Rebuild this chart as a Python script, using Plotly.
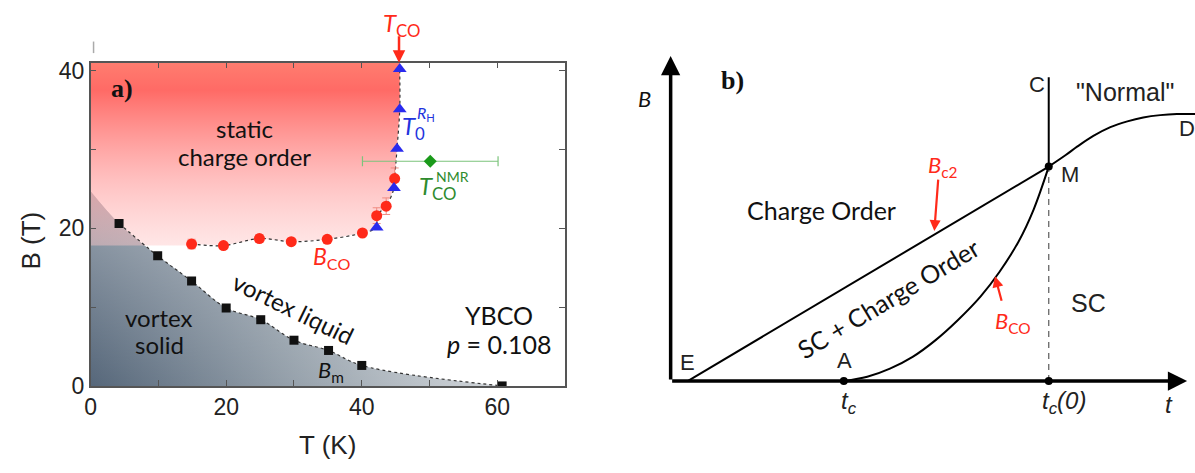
import plotly.graph_objects as go

W, H = 1195, 473


def PX(x):
    return x / W


def PY(y):
    return 1 - y / H


# ---------------- Panel a data (T in K, B in T) ----------------
BM_T = [4.2, 9.9, 14.9, 20.0, 25.1, 30.0, 35.1, 40.0, 60.7]
BM_B = [20.6, 16.5, 13.3, 9.9, 8.4, 5.8, 4.5, 2.6, 0.0]

BCO_T = [14.9, 19.6, 24.9, 29.6, 34.9, 40.1, 42.2, 43.6, 44.85]
BCO_B = [18.0, 17.8, 18.7, 18.3, 18.6, 19.4, 21.6, 22.8, 26.3]
BCO_ERR = [0.6, 0.0, 0.5, 0.0, 0.0, 0.0, 1.0, 1.05, 1.35]

T0_T = [42.2, 44.75, 45.2, 45.6, 45.6]
T0_B = [20.1, 25.1, 30.1, 35.1, 40.2]

NMR_T = [50.1]
NMR_B = [28.5]
NMR_ERR = [10.0]

X_RANGE = [0, 70]
Y_RANGE = [0, 41]
X_TICKS = [0, 10, 20, 30, 40, 50, 60, 70]
X_TICKTEXT = ["0", "", "20", "", "40", "", "60", ""]
Y_TICKS = [0, 10, 20, 30, 40]
Y_TICKTEXT = ["0", "", "20", "", "40"]

# shading boundaries
CO_FLOOR = 17.8      # bottom of charge-order shading
CO_FLOOR_END = 14.6  # T where the flat floor meets the B_co curve
GRAY_EDGE = 24.7     # vortex-solid shading at T = 0

# ---------------- Panel b schematic (t, B in arbitrary units) ----------------
EM_T = [0.045, 1.0]
EM_B = [0.0, 1.0]
AM_T = [0.458, 0.52, 0.58, 0.64, 0.70, 0.76, 0.82, 0.87, 0.92, 0.96, 1.0]
AM_B = [0.0, 0.02, 0.058, 0.113, 0.19, 0.285, 0.395, 0.51, 0.65, 0.80, 1.0]
MD_T = [1.0, 1.045, 1.076, 1.118, 1.163, 1.208, 1.250, 1.295, 1.339, 1.40]
MD_B = [1.0, 1.054, 1.094, 1.143, 1.184, 1.211, 1.229, 1.240, 1.245, 1.245]
C_T = [1.0, 1.0]
C_B = [1.0, 1.417]
DASH_T = [1.0, 1.0]
DASH_B = [0.0, 1.0]
DOT_T = [0.458, 1.0, 1.0]
DOT_B = [0.0, 0.0, 1.0]
AXIS_T_TIP = 1.366
AXIS_B_TIP = 1.516

fig = go.Figure()

# ----- Panel a: shaded regions -----
fig.add_trace(go.Scatter(
    x=[0] + BM_T, y=[GRAY_EDGE] + BM_B, mode="lines",
    line=dict(width=0, shape="spline"), fill="tozeroy",
    fillgradient=dict(type="horizontal",
                      colorscale=[[0, "#56677a"], [0.5, "#97a2ac"], [1, "#d3d7db"]]),
    hoverinfo="skip", showlegend=False, xaxis="x", yaxis="y"))
fig.add_trace(go.Scatter(
    x=[0] + BM_T, y=[GRAY_EDGE] + BM_B, mode="lines",
    line=dict(width=0, shape="spline"), fill="tozeroy",
    fillgradient=dict(type="vertical",
                      colorscale=[[0, "rgba(255,255,255,0)"], [1, "rgba(255,255,255,0.4)"]]),
    hoverinfo="skip", showlegend=False, xaxis="x", yaxis="y"))

pts = sorted(list(zip(BCO_T, BCO_B)) + list(zip(T0_T, T0_B)),
             key=lambda p: p[0] if p[0] < 42 else 100 + p[1])
bx = [p[0] for p in pts]
by = [p[1] for p in pts]

fig.add_trace(go.Scatter(
    x=[0, 0, CO_FLOOR_END] + bx + [bx[-1]],
    y=[Y_RANGE[1], CO_FLOOR, CO_FLOOR] + by + [Y_RANGE[1]],
    mode="lines", line=dict(width=0), fill="toself",
    fillgradient=dict(type="vertical",
                      colorscale=[[0, "rgba(255,200,200,0.45)"],
                                  [0.35, "rgba(255,160,160,0.65)"],
                                  [0.85, "rgba(255,95,90,0.93)"],
                                  [1, "rgba(255,110,95,0.9)"]]),
    hoverinfo="skip", showlegend=False, xaxis="x", yaxis="y"))

# ----- dotted boundary lines -----
fig.add_trace(go.Scatter(
    x=BM_T, y=BM_B, mode="lines",
    line=dict(color="#333", width=1.2, dash="dot", shape="spline"),
    hoverinfo="skip", showlegend=False))
fig.add_trace(go.Scatter(
    x=bx + [bx[-1]], y=by + [Y_RANGE[1] + 1], mode="lines",
    line=dict(color="#333", width=1.2, dash="dot", shape="spline"),
    hoverinfo="skip", showlegend=False))

# ----- markers -----
fig.add_trace(go.Scatter(
    x=BM_T, y=BM_B, mode="markers",
    marker=dict(symbol="square", size=9, color="#111"), showlegend=False))
fig.add_trace(go.Scatter(
    x=BCO_T, y=BCO_B, mode="markers",
    marker=dict(symbol="circle", size=11, color="#ff2a1a"),
    error_y=dict(type="data", array=BCO_ERR, color="#f08a80", thickness=1, width=4),
    showlegend=False))
fig.add_trace(go.Scatter(
    x=T0_T, y=T0_B, mode="markers",
    marker=dict(symbol="triangle-up", size=12, color="#2a2aee"), showlegend=False))
fig.add_trace(go.Scatter(
    x=NMR_T, y=NMR_B, mode="markers",
    marker=dict(symbol="diamond", size=10, color="#1a9a1a"),
    error_x=dict(type="data", array=NMR_ERR, color="#7cc47c", thickness=1.2, width=5),
    showlegend=False))

# ----- Panel b curves -----
for xs, ys, kw in [
    (EM_T, EM_B, dict(color="black", width=2)),
    (AM_T, AM_B, dict(color="black", width=2, shape="spline")),
    (MD_T, MD_B, dict(color="black", width=2, shape="spline")),
    (C_T, C_B, dict(color="black", width=2)),
    (DASH_T, DASH_B, dict(color="#666", width=1.3, dash="6px,5px")),
]:
    fig.add_trace(go.Scatter(x=xs, y=ys, mode="lines", line=kw,
                             hoverinfo="skip", showlegend=False,
                             xaxis="x2", yaxis="y2"))
fig.add_trace(go.Scatter(x=DOT_T, y=DOT_B, mode="markers",
                         marker=dict(size=8, color="black"),
                         showlegend=False, xaxis="x2", yaxis="y2"))

axis_common = dict(showgrid=False, zeroline=False, showline=True, mirror="ticks",
                   linecolor="#555", linewidth=1.5, ticks="inside", ticklen=6,
                   tickwidth=1.2, tickcolor="#555",
                   tickfont=dict(family="Liberation Sans", size=23, color="#222"))


def txt(s, x, y, size, color="#111", family="Lato", angle=0, xanchor="center",
        yanchor="middle"):
    return dict(text=s, x=PX(x), y=PY(y), xref="paper", yref="paper",
                showarrow=False, textangle=angle, xanchor=xanchor, yanchor=yanchor,
                font=dict(size=size, color=color, family=family))


RED = "#ff2a1a"
BLUE = "#2233dd"
GREEN = "#2e8b2e"

ann = [
    # panel a
    txt("<b>a)</b>", 117, 87, 26, family="Liberation Serif"),
    txt("static", 240, 128, 24),
    txt("charge order", 240, 158, 24),
    txt("vortex liquid", 289, 315, 24, angle=26),
    txt("vortex", 153, 325, 24),
    txt("solid", 154, 353, 24),
    txt("YBCO", 495, 322, 25),
    txt("<i>p</i> = 0.108", 495, 352, 25),
    txt("<i>B</i><sub>m</sub>", 327, 380, 22),
    txt("<i>B</i><sub>CO</sub>", 327, 262, 23, color=RED),
    txt("<i>T</i><sub>CO</sub>", 398, 20, 24, color=RED),
    txt("<i>T</i><sub>0</sub>", 410, 127, 24, color=BLUE),
    txt("<i>R</i><sub>H</sub>", 422, 113, 16, color=BLUE),
    txt("<i>T</i><sub>CO</sub>", 434, 190, 24, color=GREEN),
    txt("NMR", 449, 178, 14, color=GREEN),
    txt("T (K)", 323, 457, 26, family="Liberation Sans", color="#222"),
    txt("B (T)", 25, 245, 26, family="Liberation Sans", color="#222", angle=-90),
    dict(x=PX(395), y=PY(60), xref="paper", yref="paper", ax=0, ay=-28,
         showarrow=True, arrowhead=2, arrowsize=1, arrowwidth=2.5,
         arrowcolor=RED, text=""),
    # panel b
    txt("<i>B</i>", 642, 97, 22),
    txt("<b>b)</b>", 730, 78, 26, family="Liberation Serif"),
    txt("C", 1036, 83, 22, family="Liberation Sans", color="#222"),
    txt('"Normal"', 1125, 90, 25, family="Liberation Sans", color="#222"),
    txt("M", 1069, 176, 22, family="Liberation Sans", color="#222"),
    txt("D", 1187, 128, 22, family="Liberation Sans", color="#222"),
    txt("SC", 1088, 310, 25, family="Liberation Sans", color="#222"),
    txt("E", 685, 372, 22, family="Liberation Sans", color="#222"),
    txt("A", 843, 370, 22, family="Liberation Sans", color="#222"),
    txt("<i>t<sub>c</sub></i>", 847, 413, 24, family="Liberation Sans", color="#222"),
    txt("<i>t<sub>c</sub>(0)</i>", 1063, 413, 24, family="Liberation Sans", color="#222"),
    txt("<i>t</i>", 1169, 415, 24, family="Liberation Sans", color="#222"),
    txt("Charge Order", 820, 213, 25),
    txt("SC + Charge Order", 887, 305, 25, angle=-31),
    txt("<i>B</i><sub>c2</sub>", 942, 167, 22, color=RED),
    txt("<i>B</i><sub>CO</sub>", 1012, 330, 22, color=RED),
    dict(x=PX(933), y=PY(235), xref="paper", yref="paper", ax=4, ay=-53,
         showarrow=True, arrowhead=2, arrowsize=1, arrowwidth=2.2,
         arrowcolor=RED, text=""),
    dict(x=PX(994), y=PY(282), xref="paper", yref="paper", ax=7, ay=26,
         showarrow=True, arrowhead=2, arrowsize=1, arrowwidth=2.2,
         arrowcolor=RED, text=""),
    # panel b axes with arrow heads
    dict(x=0, y=AXIS_B_TIP, ax=0, ay=0, xref="x2", yref="y2", axref="x2", ayref="y2",
         showarrow=True, arrowhead=2, arrowsize=1.1, arrowwidth=3.5,
         arrowcolor="black", text=""),
    dict(x=AXIS_T_TIP, y=0, ax=0, ay=0, xref="x2", yref="y2", axref="x2", ayref="y2",
         showarrow=True, arrowhead=2, arrowsize=1.1, arrowwidth=3.5,
         arrowcolor="black", text=""),
]

fig.update_layout(
    width=W, height=H, margin=dict(l=0, r=0, t=0, b=0), autosize=False,
    paper_bgcolor="white", plot_bgcolor="rgba(0,0,0,0)", showlegend=False,
    xaxis=dict(domain=[PX(85), PX(562)], range=X_RANGE, tickvals=X_TICKS,
               ticktext=X_TICKTEXT, anchor="y", **axis_common),
    yaxis=dict(domain=[PY(396), PY(60)], range=Y_RANGE, tickvals=Y_TICKS,
               ticktext=Y_TICKTEXT, anchor="x", **axis_common),
    xaxis2=dict(domain=[PX(640), 1.0], range=[-28 / 380, 527 / 380], visible=False,
                anchor="y2"),
    yaxis2=dict(domain=[PY(420), PY(40)], range=[-29 / 223, 351 / 223], visible=False,
                anchor="x2"),
    annotations=ann,
    shapes=[dict(type="line", xref="paper", yref="paper", x0=PX(88), x1=PX(88),
                 y0=PY(38), y1=PY(50), line=dict(color="#aaa", width=1.5))],
)

fig.write_html("out.html")
